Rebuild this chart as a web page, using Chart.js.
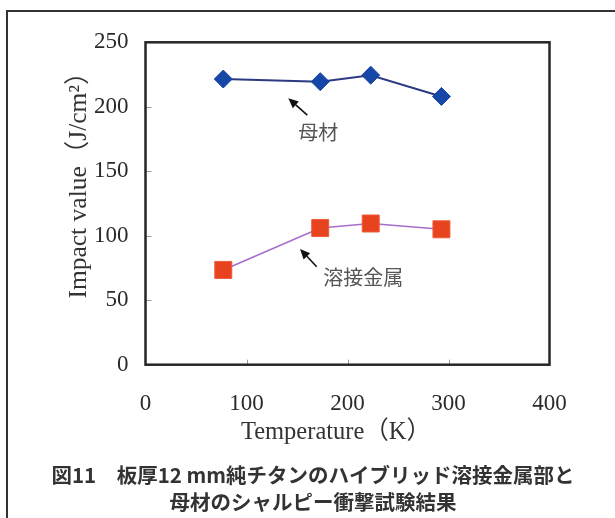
<!DOCTYPE html>
<html><head><meta charset="utf-8">
<script src="https://cdn.jsdelivr.net/npm/chart.js@4.4.1/dist/chart.umd.min.js"></script>
<style>
html,body{margin:0;padding:0;background:#fff;overflow:hidden;width:615px;height:518px;}
#frame{position:absolute;left:6px;top:10px;width:700px;height:700px;border-left:2px solid #333;border-top:2px solid #333;}
#wrap{position:absolute;left:0;top:0;width:615px;height:518px;}
</style></head><body>
<div id="frame"></div>
<div id="wrap"><canvas id="c" width="615" height="518"></canvas></div>
<script>
// ---- data ----
const temperatures = [77, 173, 223, 293];
const baseMetal = [221.5, 219.5, 224.5, 208];
const weldMetal = [73.5, 106, 109.5, 105];
const xTicks = [0, 100, 200, 300, 400];
const yTicks = [0, 50, 100, 150, 200, 250];
const seriesNames = ['母材', '溶接金属'];
const xTitle = 'Temperature（K）';
const yTitle = 'Impact value（J/cm²）';
const caption = ['図11　板厚12 mm純チタンのハイブリッド溶接金属部と', '母材のシャルピー衝撃試験結果'];
// annotation anchors in data units (K, J/cm²)
const labelAnchors = [[171, 180.5], [215.6, 67.6]];
const arrowTails = [[160.2, 193.6], [169.5, 76]];
const arrowTips = [[141.4, 206.6], [153, 89.7]];

const serif = '"Liberation Serif", "Noto Sans CJK JP", serif';

const decor = {
  id: 'decor',
  afterDraw(chart) {
    const {ctx, chartArea: a, scales: {x, y}} = chart;
    ctx.save();
    // inner tick marks
    ctx.strokeStyle = '#9a9a9a'; ctx.lineWidth = 1;
    xTicks.slice(1, -1).forEach(v => {
      const px = Math.round(x.getPixelForValue(v)) + 0.5;
      ctx.beginPath(); ctx.moveTo(px, a.bottom); ctx.lineTo(px, a.bottom - 5); ctx.stroke();
    });
    yTicks.slice(1, -1).forEach(v => {
      const py = Math.round(y.getPixelForValue(v)) + 0.5;
      ctx.beginPath(); ctx.moveTo(a.left, py); ctx.lineTo(a.left + 6, py); ctx.stroke();
    });
    // plot frame
    ctx.strokeStyle = '#262626'; ctx.lineWidth = 2.5;
    ctx.strokeRect(a.left, a.top, a.right - a.left, a.bottom - a.top);
    // arrows
    ctx.strokeStyle = '#111'; ctx.fillStyle = '#111'; ctx.lineWidth = 1.6;
    arrowTails.forEach((t, i) => {
      const x0 = x.getPixelForValue(t[0]), y0 = y.getPixelForValue(t[1]);
      const x1 = x.getPixelForValue(arrowTips[i][0]), y1 = y.getPixelForValue(arrowTips[i][1]);
      const ang = Math.atan2(y1 - y0, x1 - x0);
      const hl = 10, hw = 4.5;
      const bx = x1 - hl * Math.cos(ang), by = y1 - hl * Math.sin(ang);
      ctx.beginPath(); ctx.moveTo(x0, y0); ctx.lineTo(bx, by); ctx.stroke();
      ctx.beginPath();
      ctx.moveTo(x1, y1);
      ctx.lineTo(bx + hw * Math.sin(ang), by - hw * Math.cos(ang));
      ctx.lineTo(bx - hw * Math.sin(ang), by + hw * Math.cos(ang));
      ctx.closePath(); ctx.fill();
    });
    // annotation labels
    ctx.fillStyle = '#555';
    ctx.font = '20px "Noto Sans CJK JP"';
    ctx.textAlign = 'center'; ctx.textBaseline = 'middle';
    labelAnchors.forEach((p, i) => {
      ctx.fillText(seriesNames[i], x.getPixelForValue(p[0]), y.getPixelForValue(p[1]));
    });
    // axis titles
    ctx.fillStyle = '#333';
    ctx.textBaseline = 'alphabetic';
    ctx.save();
    ctx.font = '25px ' + serif;
    ctx.translate(336, 439); ctx.scale(0.98, 1);
    ctx.fillText(xTitle, 0, 0);
    ctx.restore();
    ctx.font = '25.5px ' + serif;
    ctx.translate(86, 179); ctx.rotate(-Math.PI / 2);
    ctx.fillText(yTitle, 0, 0);
    ctx.restore();
  }
};

new Chart(document.getElementById('c'), {
  type: 'scatter',
  data: {
    datasets: [
      {
        label: seriesNames[0],
        data: temperatures.map((t, i) => ({x: t, y: baseMetal[i]})),
        showLine: true,
        borderColor: '#2c3a82', borderWidth: 2,
        pointStyle: 'rectRot', pointRadius: 9,
        pointBackgroundColor: '#1646a6', pointBorderColor: '#1646a6', pointBorderWidth: 1
      },
      {
        label: seriesNames[1],
        data: temperatures.map((t, i) => ({x: t, y: weldMetal[i]})),
        showLine: true,
        borderColor: '#a86ccc', borderWidth: 1.6,
        pointStyle: 'rect', pointRadius: 12,
        pointBackgroundColor: '#e8431f', pointBorderColor: '#ee5a3a', pointBorderWidth: 1
      }
    ]
  },
  options: {
    responsive: false,
    animation: false,
    devicePixelRatio: 1,
    layout: {padding: {left: 11, right: 0, top: 42.3, bottom: 0}},
    plugins: {
      legend: {display: false},
      tooltip: {enabled: false},
      title: {
        display: true, position: 'bottom', text: caption, color: '#333',
        font: {family: '"Noto Sans CJK JP"', size: 20.5, weight: 'bold', lineHeight: 1.317},
        padding: {top: 9, bottom: 2.5}
      }
    },
    scales: {
      x: {
        type: 'linear', min: 0, max: 400,
        afterBuildTicks: s => { s.ticks = xTicks.map(v => ({value: v})); },
        afterFit: s => { s.height = 87.8; },
        grid: {display: false}, border: {display: false},
        ticks: {color: '#2a2a2a', padding: 17.5, font: {family: serif, size: 23}}
      },
      y: {
        type: 'linear', min: 0, max: 250,
        afterBuildTicks: s => { s.ticks = yTicks.map(v => ({value: v})); },
        afterFit: s => { s.width = 134.5; },
        grid: {display: false}, border: {display: false},
        ticks: {color: '#2a2a2a', padding: 9, font: {family: serif, size: 23}}
      },
      y2: {
        type: 'linear', position: 'right', display: true,
        afterFit: s => { s.width = 65.5; },
        grid: {display: false}, border: {display: false},
        ticks: {display: false}
      }
    }
  },
  plugins: [decor]
});
</script>
</body></html>
